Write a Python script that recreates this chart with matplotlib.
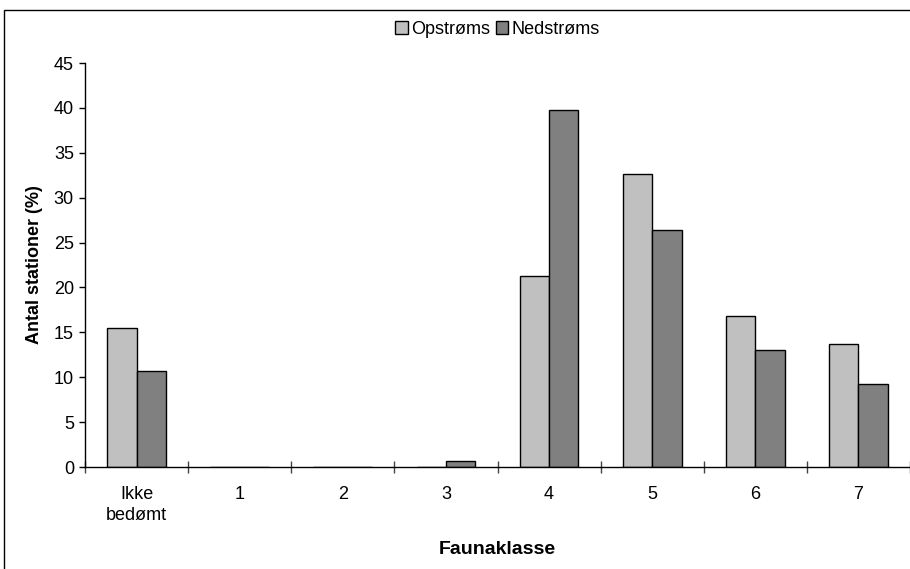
import numpy as np
import matplotlib
matplotlib.use("Agg")
import matplotlib.pyplot as plt
from matplotlib.patches import Rectangle

plt.rcParams.update({
    "font.family": ["Liberation Sans", "DejaVu Sans"],
    "font.size": 13,
})

# Data
categories = ["Ikke\nbedømt", "1", "2", "3", "4", "5", "6", "7"]
opstroms = [15.5, 0, 0, 0, 21.3, 32.6, 16.8, 13.7]
nedstroms = [10.7, 0, 0, 0.7, 39.8, 26.4, 13.0, 9.3]

fig = plt.figure(figsize=(9.1, 5.69), dpi=100)

# outer frame (cropped at right and bottom)
fig.patches.append(Rectangle((4 / 910, -0.1), 1.2, 1.1 - 10 / 569,
                             transform=fig.transFigure, fill=False,
                             edgecolor="black", linewidth=1.0))

ax = fig.add_axes([85 / 910, 102 / 569, 825 / 910, 404 / 569])

x = np.arange(len(categories))
w = 0.285
ax.bar(x - w / 2, opstroms, w, color="#C0C0C0", edgecolor="black",
       linewidth=1.0, label="Opstrøms")
ax.bar(x + w / 2, nedstroms, w, color="#808080", edgecolor="black",
       linewidth=1.0, label="Nedstrøms")

ax.set_xlim(-0.5, len(categories) - 0.5)
ax.set_ylim(0, 45)
ax.set_yticks(np.arange(0, 46, 5))

ax.set_xticks(x)
ax.set_xticklabels(categories, fontsize=13, linespacing=1.3)
ax.set_xticks(np.arange(-0.5, len(categories), 1), minor=True)
ax.tick_params(axis="x", which="major", length=0, pad=14)
ax.tick_params(axis="x", which="minor", direction="inout", length=9,
               width=1.0, color="#444444")
ax.tick_params(axis="y", direction="out", length=4, width=1.0, pad=4,
               labelsize=13)

for s in ["top", "right"]:
    ax.spines[s].set_visible(False)
for s in ["left", "bottom"]:
    ax.spines[s].set_linewidth(1.0)

ax.set_ylabel("Antal stationer (%)", fontweight="bold", fontsize=13,
              labelpad=8)
ax.set_xlabel("Faunaklasse", fontweight="bold", fontsize=14, labelpad=12)

ax.legend(loc="upper center", bbox_to_anchor=(0.5, 1.122), ncol=2,
          frameon=False, fontsize=13, handlelength=0.7, handleheight=0.7,
          handletextpad=0.2, columnspacing=0.3, borderaxespad=0)

fig.savefig("out.png", dpi=100)
